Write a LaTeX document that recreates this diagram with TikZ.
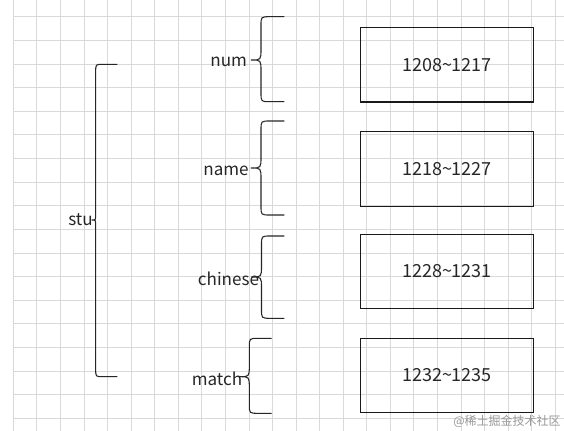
\documentclass[tikz,border=0pt]{standalone}
\usepackage{fontspec}
\setmainfont{Noto Sans CJK SC}
\begin{document}
\begin{tikzpicture}[x=0.75pt,y=-0.75pt,
  gridline/.style={draw=black!15,line width=0.6pt},
  brace/.style={draw=black!85,line width=0.8pt},
  lbl/.style={font=\fontsize{12.8pt}{14pt}\selectfont,text=black!85,inner sep=0pt},
  rangebox/.style={draw=black!90,line width=0.8pt,minimum width=129.5pt,minimum height=56pt,
    inner sep=0pt,font=\fontsize{13.5pt}{15pt}\selectfont,text=black!85}]
\useasboundingbox (0,0) rectangle (564,431);
\fill[white] (0,0) rectangle (564,431);
% grid
\foreach \k in {0,...,23} {
  \draw[gridline] ({13.3+23.56*\k},0) -- ({13.3+23.56*\k},431);
}
\foreach \k in {0,...,17} {
  \draw[gridline] (13.3,{16.7+23.62*\k}) -- (564,{16.7+23.62*\k});
}
% boxes
\node[rangebox] (b1) at (447,64.7) {\raisebox{-1.5pt}{1208\char"007E 1217}};
\node[rangebox] (b2) at (447,168.9) {\raisebox{-1.5pt}{1218\char"007E 1227}};
\node[rangebox] (b3) at (447,271.5) {\raisebox{-1.5pt}{1228\char"007E 1231}};
\node[rangebox] (b4) at (447,375.5) {\raisebox{-1.5pt}{1232\char"007E 1235}};
% labels
\node[lbl] (stu) at (80.5,220) {stu};
\node[lbl] (num) at (228.7,62) {num};
\node[lbl] (name) at (226,171) {name};
\node[lbl] (chinese) at (228.5,279) {chinese};
\node[lbl] (match) at (217,379) {match};
% big brace
\draw[brace] (117.3,64.3) -- (103,64.3) .. controls (95.7,64.3) .. (95.7,71.5)
  -- (95.7,214) .. controls (95.7,220) .. (91.7,220) .. controls (95.7,220) .. (95.7,226)
  -- (95.7,369.5) .. controls (95.7,376.7) .. (103,376.7) -- (117.3,376.7);
% small braces
\foreach \v/\t/\m/\b/\e/\tp in {261/16.7/60/101.7/284.3/251, 261/121/168/215/284.3/251,
  261.5/236/277/318.3/284.3/251.5, 249.3/338.3/376.7/413.3/271.7/239.5} {
  \draw[brace] (\e,\t) -- ({\v+9},\t) .. controls (\v,\t) .. (\v,{\t+9})
    -- (\v,{\m-11}) .. controls (\v,\m) .. (\tp,\m) .. controls (\v,\m) .. (\v,{\m+11})
    -- (\v,{\b-9}) .. controls (\v,\b) .. ({\v+9},\b) -- (\e,\b);
}
% watermark
\node[font=\fontsize{9pt}{10pt}\selectfont,text=black!40,inner sep=0pt] (wm) at (507,421.5) {@稀土掘金技术社区};
\end{tikzpicture}
\end{document}
